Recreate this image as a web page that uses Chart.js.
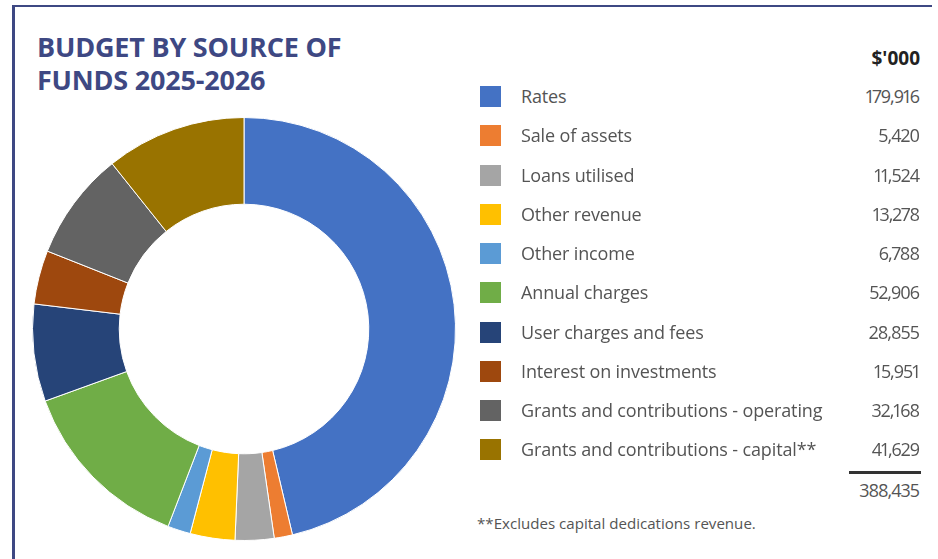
<!DOCTYPE html>
<html>
<head>
<meta charset="utf-8">
<script src="https://cdn.jsdelivr.net/npm/chart.js@4"></script>
<style>
  html, body { margin: 0; padding: 0; background: #fff; }
  body { width: 938px; height: 559px; position: relative; overflow: hidden; font-family: "Open Sans", sans-serif; }
  .frame { position: absolute; left: 12px; top: 5px; width: 917px; height: 600px;
           border-top: 2px solid #3E4883; border-left: 3px solid #3E4883; }
  .title { position: absolute; left: 37px; top: 30px; margin: 0; font-size: 27px; line-height: 33px;
           font-weight: 700; color: #3E4883; letter-spacing: -0.2px; }
  .chartbox { position: absolute; left: 32px; top: 117px; width: 424px; height: 424px; }
  .row { position: absolute; left: 0; width: 938px; height: 21px; }
  .sw { position: absolute; left: 480px; top: 0; width: 21px; height: 21px; }
  .lbl { position: absolute; left: 521px; top: 0; font-size: 18px; line-height: 20px; color: #545454;
         white-space: nowrap; font-weight: 400; letter-spacing: -0.14px; }
  .num { font-size: 18px; line-height: 20px; color: #545454; white-space: nowrap; font-weight: 400;
         font-variant-numeric: proportional-nums; letter-spacing: -1px; }
  .val { position: absolute; right: 19px; top: 0; }
  .unit { position: absolute; right: 18px; top: 48px; font-size: 19px; line-height: 20px; font-weight: 700; color: #222; }
  .rule { position: absolute; left: 849px; top: 471px; width: 72px; height: 2.5px; background: #333; }
  .total { position: absolute; right: 19px; top: 480px; }
  .note { position: absolute; left: 477px; top: 513px; font-size: 15.1px; line-height: 20px; color: #545454;
          white-space: nowrap; font-weight: 400; }
</style>
</head>
<body>
<div class="frame"></div>
<h1 class="title">BUDGET BY SOURCE OF<br>FUNDS 2025-2026</h1>
<div class="chartbox"><canvas id="pie" width="424" height="424"></canvas></div>
<div class="unit" id="unit"></div>
<div id="legend"></div>
<div class="rule"></div>
<div class="total num" id="total"></div>
<div class="note" id="note"></div>

<script>
// Sources of funds, $'000
const categories = [
  'Rates',
  'Sale of assets',
  'Loans utilised',
  'Other revenue',
  'Other income',
  'Annual charges',
  'User charges and fees',
  'Interest on investments',
  'Grants and contributions - operating',
  'Grants and contributions - capital**'
];
const amounts = [179916, 5420, 11524, 13278, 6788, 52906, 28855, 15951, 32168, 41629];
const sliceColors = ['#4472C4', '#ED7D31', '#A5A5A5', '#FFC000', '#5B9BD5',
                     '#70AD47', '#264478', '#9E480E', '#636363', '#997300'];
const unitLabel = "$'000";
const footnote = '**Excludes capital dedications revenue.';

const fmt = n => n.toLocaleString('en-US');

// Doughnut, starting at 12 o'clock and running clockwise
new Chart(document.getElementById('pie'), {
  type: 'doughnut',
  data: {
    labels: categories,
    datasets: [{
      data: amounts,
      backgroundColor: sliceColors,
      borderColor: '#ffffff',
      borderWidth: 1
    }]
  },
  options: {
    responsive: false,
    animation: false,
    cutout: '59%',
    layout: { padding: 0 },
    plugins: { legend: { display: false }, tooltip: { enabled: false } }
  }
});

// Legend table with values
document.getElementById('unit').textContent = unitLabel;
const legend = document.getElementById('legend');
const firstRow = 86, rowStep = 39.25;
categories.forEach((name, i) => {
  const row = document.createElement('div');
  row.className = 'row';
  row.style.top = (firstRow + i * rowStep) + 'px';
  const sw = document.createElement('div');
  sw.className = 'sw';
  sw.style.background = sliceColors[i];
  const lbl = document.createElement('div');
  lbl.className = 'lbl';
  lbl.textContent = name;
  const val = document.createElement('div');
  val.className = 'val num';
  val.textContent = fmt(amounts[i]);
  row.append(sw, lbl, val);
  legend.appendChild(row);
});
document.getElementById('total').textContent = fmt(amounts.reduce((a, b) => a + b, 0));
document.getElementById('note').textContent = footnote;
</script>
</body>
</html>
